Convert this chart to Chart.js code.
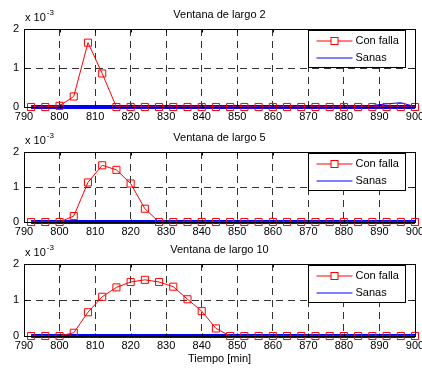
<!DOCTYPE html>
<html>
<head>
<meta charset="utf-8">
<script src="https://cdn.jsdelivr.net/npm/chart.js@4.4.1/dist/chart.umd.min.js"></script>
<style>
  body { margin: 0; background: #fff; width: 422px; height: 371px; overflow: hidden; position: relative; }
  canvas { position: absolute; left: 0; }
</style>
</head>
<body>
<canvas id="c1" width="422" height="125" style="top:0px"></canvas>
<canvas id="c2" width="422" height="117" style="top:123px"></canvas>
<canvas id="c3" width="422" height="137" style="top:235px"></canvas>
<script>
// tiempo en minutos, valores en unidades de 1e-3
const tiempo = [792, 796, 800, 804, 808, 812, 816, 820, 824, 828, 832, 836, 840, 844,
                848, 852, 856, 860, 864, 868, 872, 876, 880, 884, 888, 892, 896, 900];

const conFalla2 = [0, 0, 0.03, 0.27, 1.65, 0.86, 0, 0, 0, 0, 0, 0, 0, 0,
                   0, 0, 0, 0, 0, 0, 0, 0, 0, 0, 0, 0, 0, 0];
const conFalla5 = [0, 0, 0, 0.17, 1.13, 1.62, 1.49, 1.1, 0.38, 0, 0, 0, 0, 0,
                   0, 0, 0, 0, 0, 0, 0, 0, 0, 0, 0, 0, 0, 0];
const conFalla10 = [0, 0, 0, 0.09, 0.66, 1.09, 1.35, 1.5, 1.56, 1.5, 1.37, 1.02, 0.69, 0.21,
                    0, 0, 0, 0, 0, 0, 0, 0, 0, 0, 0, 0, 0, 0];

const sanas = [0, 0, 0, 0, 0, 0, 0, 0, 0, 0, 0, 0, 0, 0,
               0, 0, 0, 0, 0, 0, 0, 0, 0, 0, 0, 0, 0, 0];
// una de las series sanas de la ventana 2 que se despega un poco
const sanasPico2 = [0.02, 0.03, 0.03, 0.03, 0.04, 0.03, 0.02, 0.01, 0.01, 0.01, 0.01, 0.01, 0.01, 0.01,
                    0.01, 0.01, 0.01, 0.01, 0.02, 0.03, 0.02, 0.01, 0.01, 0.02, 0.04, 0.08, 0.11, 0.01];

const ticksX = [790, 800, 810, 820, 830, 840, 850, 860, 870, 880, 890, 900];
const ticksY = [0, 1, 2];

const fuente = '11px "Liberation Sans", Arial, sans-serif';

const aPuntos = (ys) => tiempo.map((t, i) => ({ x: t, y: ys[i] }));

// marco, ticks hacia dentro, titulo, exponente y leyenda estilo matlab
const marcoEjes = {
  id: 'marcoEjes',
  afterDraw(chart, args, o) {
    const { ctx, chartArea: a, scales: { x, y } } = chart;
    const L = Math.round(a.left) + 0.5, R = Math.round(a.right) + 0.5;
    const T = Math.round(a.top) + 0.5, B = Math.round(a.bottom) + 0.5;
    ctx.save();
    ctx.strokeStyle = '#000';
    ctx.lineWidth = 1;
    ctx.beginPath();
    ticksX.forEach(v => {
      const px = Math.round(x.getPixelForValue(v)) + 0.5;
      ctx.moveTo(px, B); ctx.lineTo(px, B - 3);
      ctx.moveTo(px, T); ctx.lineTo(px, T + 3);
    });
    ticksY.forEach(v => {
      const py = Math.round(y.getPixelForValue(v)) + 0.5;
      ctx.moveTo(L, py); ctx.lineTo(L + 3, py);
      ctx.moveTo(R, py); ctx.lineTo(R - 3, py);
    });
    ctx.stroke();
    ctx.strokeRect(L, T, R - L, B - T);

    ctx.fillStyle = '#000';
    ctx.font = fuente;
    ctx.textBaseline = 'middle';
    ctx.textAlign = 'center';
    ctx.fillText(o.titulo, (a.left + a.right) / 2, a.top - 14);
    if (o.ejeX) ctx.fillText(o.ejeX, (a.left + a.right) / 2, a.bottom + 23);

    ctx.textAlign = 'left';
    ctx.fillText('x 10', a.left + 1, a.top - 11);
    const w = ctx.measureText('x 10').width;
    ctx.font = '8px "Liberation Sans", Arial, sans-serif';
    ctx.fillText('-3', a.left + 2 + w, a.top - 16);

    // leyenda
    const bx = Math.round(a.right) - 107 + 0.5, by = Math.round(a.top) + 1.5;
    ctx.fillStyle = '#fff';
    ctx.fillRect(bx, by, 97, 37);
    ctx.strokeStyle = '#000';
    ctx.strokeRect(bx, by, 97, 37);
    const items = chart.data.datasets.filter(d => d.label);
    items.forEach((d, i) => {
      const ry = a.top + 12 + i * 17;
      ctx.strokeStyle = d.borderColor;
      ctx.lineWidth = 1;
      ctx.beginPath();
      ctx.moveTo(bx + 8, ry); ctx.lineTo(bx + 44, ry);
      ctx.stroke();
      if (d.pointRadius > 0) {
        ctx.fillStyle = '#fff';
        ctx.fillRect(bx + 22.5, ry - 3.5, 7, 7);
        ctx.strokeRect(bx + 22.5, ry - 3.5, 7, 7);
      }
      ctx.fillStyle = '#000';
      ctx.font = fuente;
      ctx.fillText(d.label, bx + 47, ry);
    });
    ctx.restore();
  }
};

function panel(id, titulo, falla, extras, ejeX) {
  const datasets = [
    {
      label: 'Con falla',
      data: aPuntos(falla),
      borderColor: '#ff0000',
      borderWidth: 1,
      pointStyle: 'rect',
      pointRadius: 5,
      pointBorderWidth: 1,
      pointBorderColor: '#ff0000',
      pointBackgroundColor: 'rgba(0,0,0,0)',
      tension: 0,
      clip: false
    },
    {
      label: 'Sanas',
      data: aPuntos(sanas),
      borderColor: '#0000ff',
      borderWidth: 4,
      pointRadius: 0,
      tension: 0,
      clip: false
    }
  ];
  extras.forEach(ys => datasets.push({
    data: aPuntos(ys),
    borderColor: '#0000ff',
    borderWidth: 1,
    pointRadius: 0,
    tension: 0,
    clip: false
  }));

  return new Chart(document.getElementById(id), {
    type: 'line',
    data: { datasets },
    options: {
      responsive: false,
      animation: false,
      layout: { padding: { top: 29, left: 0, right: 7, bottom: 0 } },
      plugins: {
        legend: { display: false },
        tooltip: { enabled: false },
        marcoEjes: { titulo, ejeX }
      },
      scales: {
        x: {
          type: 'linear',
          min: 790,
          max: 900,
          afterBuildTicks: (s) => { s.ticks = ticksX.map(v => ({ value: v })); },
          afterFit: (s) => {
            s.height = ejeX ? 36 : 18;
            s.paddingLeft = 0;
            s.paddingRight = 0;
          },
          ticks: { autoSkip: false, maxRotation: 0, padding: 3, color: '#000', font: { family: '"Liberation Sans", Arial, sans-serif', size: 11 } },
          grid: {
            drawTicks: false,
            color: (c) => (c.tick && (c.tick.value === 790 || c.tick.value === 900)) ? 'rgba(0,0,0,0)' : '#333',
            lineWidth: 1
          },
          border: { display: false, dash: [7, 5] }
        },
        y: {
          min: 0,
          max: 2,
          afterBuildTicks: (s) => { s.ticks = ticksY.map(v => ({ value: v })); },
          afterFit: (s) => { s.width = 24; s.paddingTop = 0; s.paddingBottom = 0; },
          ticks: { padding: 5, color: '#000', font: { family: '"Liberation Sans", Arial, sans-serif', size: 11 } },
          grid: {
            drawTicks: false,
            color: (c) => (c.tick && c.tick.value === 1) ? '#333' : 'rgba(0,0,0,0)',
            lineWidth: 1
          },
          border: { display: false, dash: [7, 5] }
        }
      }
    },
    plugins: [marcoEjes]
  });
}

panel('c1', 'Ventana de largo 2', conFalla2, [sanasPico2]);
panel('c2', 'Ventana de largo 5', conFalla5, []);
panel('c3', 'Ventana de largo 10', conFalla10, [], 'Tiempo [min]');
</script>
</body>
</html>
